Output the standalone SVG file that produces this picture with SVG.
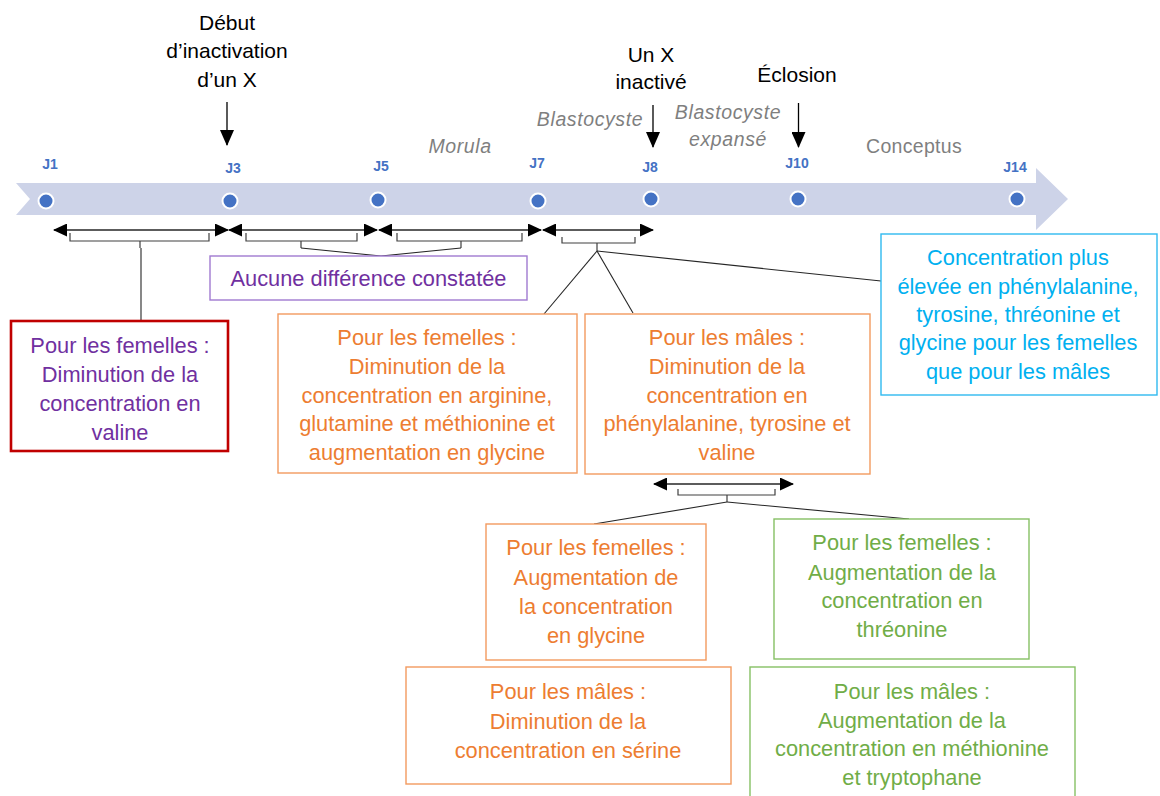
<svg xmlns="http://www.w3.org/2000/svg" width="1160" height="796" viewBox="0 0 1160 796">
<defs>
<style>
text{font-family:"Liberation Sans",Arial,sans-serif;text-anchor:middle}
.top{font-size:21px;fill:#000}
.phase{font-size:19.5px;fill:#7F7F7F;font-style:italic;letter-spacing:0.6px}
.phase2{font-size:19.5px;fill:#7F7F7F;letter-spacing:0.3px}
.day{font-size:14px;fill:#4472C4;font-weight:bold}
.dot{fill:#4472C4;stroke:#fff;stroke-width:2}
.bt{font-size:21.8px}
.purple{fill:#7030A0}
.orange{fill:#ED7D31}
.green{fill:#70AD47}
.blue{fill:#00B0F0}
.box{fill:#fff;stroke-width:1.4}
.bo{stroke:#F29A5F}
.bg{stroke:#86C064}
.bb{stroke:#2FBAF0}
.bp{stroke:#A07AD0}
.br{stroke:#C00000;stroke-width:2.6}
.dbl{stroke:#262626;stroke-width:1.3;fill:none;marker-start:url(#ah);marker-end:url(#ah)}
.brace{stroke:#404040;stroke-width:1.2;fill:none}
.conn{stroke:#262626;stroke-width:1.1;fill:none}
.down{stroke:#000;stroke-width:1.3;fill:none;marker-end:url(#ad)}
</style>
<marker id="ah" viewBox="0 0 14 13" refX="13" refY="6.5" markerWidth="14" markerHeight="13" markerUnits="userSpaceOnUse" orient="auto-start-reverse">
<path d="M0,0 L14,6.5 L0,13 Z" fill="#000"/>
</marker>
<marker id="ad" viewBox="0 0 16 14" refX="15" refY="7" markerWidth="16" markerHeight="14" markerUnits="userSpaceOnUse" orient="auto">
<path d="M0,0 L16,7 L0,14 Z" fill="#000"/>
</marker>
</defs>
<rect width="1160" height="796" fill="#fff"/>

<g id="timeline">
<path d="M16,183 L1036,183 L1036,168 L1068,199 L1036,230 L1036,215 L16,215 L30,199 Z" fill="#CDD3E8"/>
<circle class="dot" cx="46" cy="201" r="7.5"/>
<circle class="dot" cx="230" cy="201" r="7.5"/>
<circle class="dot" cx="378" cy="200" r="7.5"/>
<circle class="dot" cx="538" cy="201" r="7.5"/>
<circle class="dot" cx="651" cy="199" r="7.5"/>
<circle class="dot" cx="798" cy="199" r="7.5"/>
<circle class="dot" cx="1017" cy="199" r="7.5"/>
<text class="day" x="50" y="169">J1</text>
<text class="day" x="233" y="173">J3</text>
<text class="day" x="381" y="171">J5</text>
<text class="day" x="537" y="168">J7</text>
<text class="day" x="650" y="172">J8</text>
<text class="day" x="797" y="168">J10</text>
<text class="day" x="1015" y="172">J14</text>
</g>

<g id="phases">
<text class="phase" x="460" y="153">Morula</text>
<text class="phase" x="590" y="126">Blastocyste</text>
<text class="phase" x="728" y="119">Blastocyste</text>
<text class="phase" x="728" y="146">expansé</text>
<text class="phase2" x="914" y="153">Conceptus</text>
</g>

<g id="event-debut">
<text class="top" x="227" y="30">Début</text>
<text class="top" x="227" y="58">d’inactivation</text>
<text class="top" x="227" y="87">d’un X</text>
</g>
<g id="event-unx">
<text class="top" x="651" y="62">Un X</text>
<text class="top" x="651" y="89">inactivé</text>
</g>
<g id="event-eclosion">
<text class="top" x="797" y="82">Éclosion</text>
</g>

<g id="connectors">
<line class="down" x1="227" y1="102" x2="227" y2="145"/>
<line class="down" x1="653" y1="105" x2="653" y2="147"/>
<line class="down" x1="798.5" y1="103" x2="798.5" y2="147"/>
<line class="dbl" x1="54" y1="230" x2="228" y2="230"/>
<line class="dbl" x1="229" y1="230" x2="377" y2="230"/>
<line class="dbl" x1="379" y1="230" x2="541" y2="230"/>
<line class="dbl" x1="543" y1="230" x2="653" y2="230"/>
<line class="dbl" x1="654" y1="484" x2="793" y2="484"/>
<path class="brace" d="M70,233 V241 H209 V233 M140,241 V248"/>
<path class="brace" d="M246,233 V241 H357 V233 M301,241 V248"/>
<path class="brace" d="M397,233 V241 H522 V233 M461,241 V248"/>
<path class="brace" d="M562,237 V243 H635 V237 M597,243 V251"/>
<path class="brace" d="M678,489 V495 H775 V489 M727,495 V502"/>
<line class="conn" x1="141" y1="248" x2="141" y2="321"/>
<polyline class="conn" points="301,248 381,256 461,248"/>
<line class="conn" x1="597" y1="251" x2="544" y2="314"/>
<line class="conn" x1="597" y1="251" x2="633" y2="313"/>
<line class="conn" x1="597" y1="251" x2="881" y2="281"/>
<line class="conn" x1="727" y1="502" x2="594" y2="524"/>
<line class="conn" x1="727" y1="502" x2="909" y2="519"/>
</g>

<g id="aucune">
<rect class="box bp" x="210" y="256" width="317" height="44"/>
<text class="bt purple" x="368.5" y="286">Aucune différence constatée</text>
</g>

<g id="femelles-valine">
<rect class="box br" x="11" y="321" width="217" height="130"/>
<text class="bt purple" x="120" y="353">Pour les femelles :</text>
<text class="bt purple" x="120" y="382">Diminution de la</text>
<text class="bt purple" x="120" y="411">concentration en</text>
<text class="bt purple" x="120" y="440">valine</text>
</g>

<g id="femelles-j7">
<rect class="box bo" x="278" y="314" width="299" height="159"/>
<text class="bt orange" x="427" y="345">Pour les femelles :</text>
<text class="bt orange" x="427" y="374">Diminution de la</text>
<text class="bt orange" x="427" y="403">concentration en arginine,</text>
<text class="bt orange" x="427" y="431">glutamine et méthionine et</text>
<text class="bt orange" x="427" y="460">augmentation en glycine</text>
</g>

<g id="males-j7">
<rect class="box bo" x="585" y="314" width="285" height="160"/>
<text class="bt orange" x="727" y="345">Pour les mâles :</text>
<text class="bt orange" x="727" y="374">Diminution de la</text>
<text class="bt orange" x="727" y="403">concentration en</text>
<text class="bt orange" x="727" y="431">phénylalanine, tyrosine et</text>
<text class="bt orange" x="727" y="460">valine</text>
</g>

<g id="difference-sexes">
<rect class="box bb" x="881" y="234" width="276" height="161"/>
<text class="bt blue" x="1018" y="265">Concentration plus</text>
<text class="bt blue" x="1018" y="294">élevée en phénylalanine,</text>
<text class="bt blue" x="1018" y="322">tyrosine, thréonine et</text>
<text class="bt blue" x="1018" y="350">glycine pour les femelles</text>
<text class="bt blue" x="1018" y="379">que pour les mâles</text>
</g>

<g id="femelles-glycine">
<rect class="box bo" x="486" y="524" width="220" height="136"/>
<text class="bt orange" x="596" y="555">Pour les femelles :</text>
<text class="bt orange" x="596" y="585">Augmentation de</text>
<text class="bt orange" x="596" y="614">la concentration</text>
<text class="bt orange" x="596" y="643">en glycine</text>
</g>

<g id="femelles-threonine">
<rect class="box bg" x="774" y="519" width="255" height="140"/>
<text class="bt green" x="902" y="550">Pour les femelles :</text>
<text class="bt green" x="902" y="580">Augmentation de la</text>
<text class="bt green" x="902" y="608">concentration en</text>
<text class="bt green" x="902" y="637">thréonine</text>
</g>

<g id="males-serine">
<rect class="box bo" x="406" y="667" width="325" height="117"/>
<text class="bt orange" x="568" y="699">Pour les mâles :</text>
<text class="bt orange" x="568" y="729">Diminution de la</text>
<text class="bt orange" x="568" y="758">concentration en sérine</text>
</g>

<g id="males-methionine">
<rect class="box bg" x="750" y="667" width="325" height="140"/>
<text class="bt green" x="912" y="699">Pour les mâles :</text>
<text class="bt green" x="912" y="728">Augmentation de la</text>
<text class="bt green" x="912" y="756">concentration en méthionine</text>
<text class="bt green" x="912" y="785">et tryptophane</text>
</g>
</svg>
